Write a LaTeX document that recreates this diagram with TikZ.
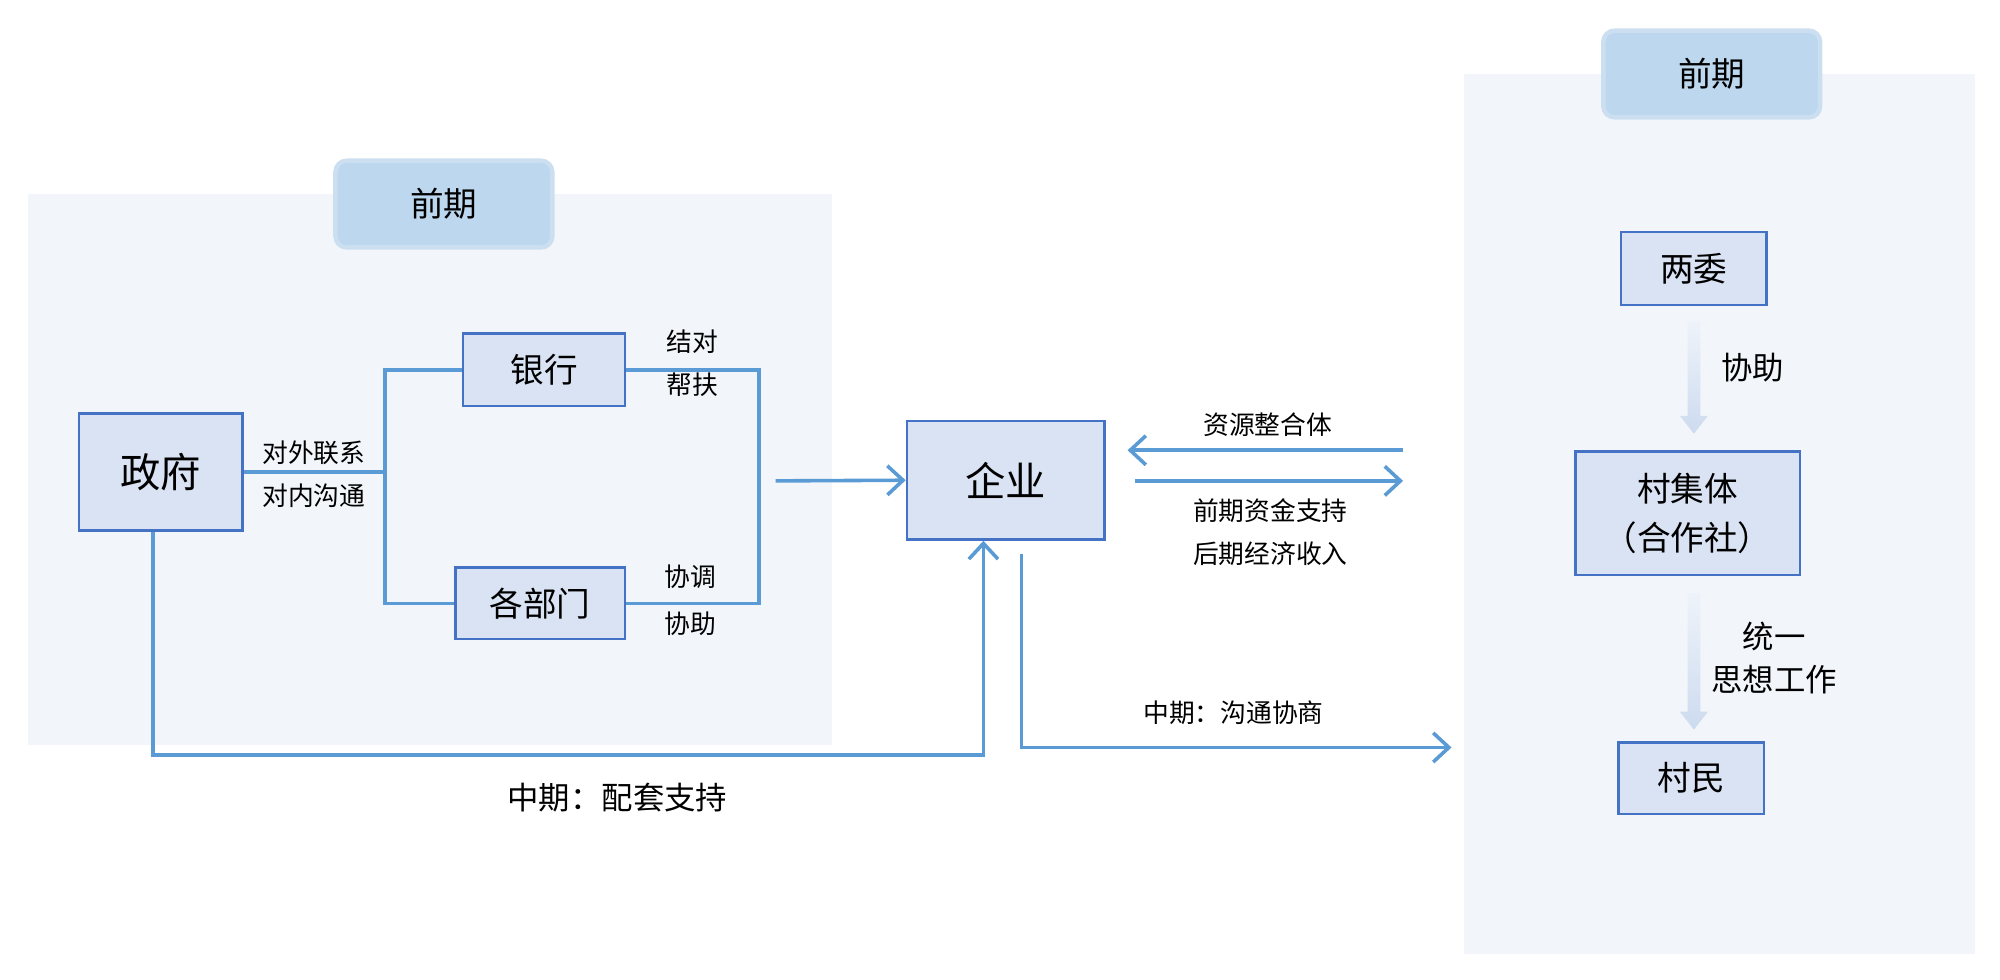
\documentclass[tikz,border=0pt]{standalone}
\usepackage{fontspec}
\newfontfamily\cjk{Noto Sans CJK SC}
\usepackage{xcolor}
\usepackage{tikz}
\usetikzlibrary{calc,positioning,arrows.meta}

\definecolor{panelbg}{HTML}{F2F6FA}
\definecolor{tabfill}{HTML}{BDD7EE}
\definecolor{tabedge}{HTML}{CCDFF1}
\definecolor{boxfill}{HTML}{DAE3F3}
\definecolor{boxedge}{HTML}{4472C4}
\definecolor{linkblue}{HTML}{5B9BD5}
\definecolor{fadetop}{HTML}{EEF3FA}
\definecolor{fadebot}{HTML}{CDDBEF}

\tikzset{
  every node/.append style={font=\cjk},
  panel/.style={fill=panelbg},
  tab/.style={fill=tabfill,draw=tabedge,line width=2pt,rounded corners=5pt,
    minimum width=3.4cm,minimum height=1.36cm,font=\cjk\fontsize{15}{18}\selectfont},
  box/.style={draw=boxedge,fill=boxfill,line width=1.1pt,inner sep=0pt},
  bigtxt/.style={font=\cjk\fontsize{18}{21}\selectfont},
  midtxt/.style={font=\cjk\fontsize{15}{21.5}\selectfont,align=center},
  lbl/.style={font=\cjk\fontsize{11.5}{14}\selectfont,inner sep=0pt},
  lblmid/.style={font=\cjk\fontsize{14}{19}\selectfont,inner sep=0pt,align=center},
  link/.style={draw=linkblue,line width=1.6pt},
  arr/.style={link,-{Straight Barb[length=7pt,width=13pt,line width=1.6pt]}},
}

\begin{document}
\begin{tikzpicture}[x=0.02cm,y=-0.02cm]
  \useasboundingbox (0,0) rectangle (1568,768);
  % 两块底色面板
  \fill[panel] (22,152) rectangle (652,584);
  \fill[panel] (1148,58) rectangle (1548,748);
  \node[tab] (tabL) at (348,160) {前期};
  \node[tab] (tabR) at (1342,58) {前期};

  % 左侧：政府、银行、各部门
  \node[box,bigtxt,minimum width=2.56cm,minimum height=1.84cm] (zf) at (126,370) {政府};
  \node[box,midtxt,minimum width=2.54cm,minimum height=1.14cm] (yh) at (426.5,290) {银行};
  \node[box,midtxt,minimum width=2.66cm,minimum height=1.12cm] (bm) at (423.5,473) {各部门};
  \node[box,bigtxt,minimum width=3.1cm,minimum height=1.86cm] (qy) at (788.5,376.5) {企业};

  % 右侧：两委、村集体、村民
  \node[box,midtxt,minimum width=2.28cm,minimum height=1.14cm] (lw) at (1328,210.5) {两委};
  \node[box,midtxt,minimum width=3.52cm,minimum height=1.94cm] (cjt) at (1323,402.5) {村集体\\（合作社）};
  \node[box,midtxt,minimum width=2.28cm,minimum height=1.12cm] (cm) at (1326,610) {村民};

  % 政府分到银行和各部门
  \draw[link] (zf.east) -- ++(111,0) coordinate (j1);
  \draw[link] (yh.west) -| (j1) |- (bm.west);
  \draw[link] (yh.east) -| ($(bm.east)+(104,0)$) -- (bm.east);
  \node[lbl] (dw) at (246,355) {对外联系};
  \node[lbl] (dn) at (246,389) {对内沟通};
  \node[lbl] (jd) at (543,268) {结对};
  \node[lbl] (bf) at (543,302) {帮扶};
  \node[lbl] (xt) at (541,452) {协调};
  \node[lbl] (xz) at (541,489) {协助};
  \coordinate (m) at (608,377);
  \draw[arr] (m) -- (qy.west);

  % 中期：政府配套支持企业
  \coordinate (gb) at (771,592);
  \draw[arr] ([xshift=-0.12cm]zf.south) |- (gb) -- (gb |- qy.south);
  \node[lblmid] (ptzc) at (484,625) {中期：配套支持};

  % 企业与村集体之间
  \coordinate (zr) at (1100,353);
  \coordinate (zl) at (884,353);
  \coordinate (sl) at (890,377);
  \coordinate (sr) at (1100,377);
  \draw[arr] (zr) -- (zl);
  \draw[arr] (sl) -- (sr);
  \node[lbl] (zyzh) at (994,333) {资源整合体};
  \node[lbl] (qqzj) at (996,400) {前期资金支持};
  \node[lbl] (hqjj) at (996,434) {后期经济收入};

  % 中期：沟通协商
  \coordinate (gc) at (801,586);
  \coordinate (ge) at (1138,586);
  \draw[arr] ([yshift=-0.2cm]gc |- qy.south) -- (gc) -- (ge);
  \node[lbl] (gtxs) at (967,559) {中期：沟通协商};

  % 右侧淡色箭头
  \foreach \ya/\yb in {252/340,465/572}
    \shade[top color=fadetop,bottom color=fadebot]
      (1323,\ya) -- (1333,\ya) -- (1333,\yb-14) -- (1339,\yb-14) -- (1328,\yb)
      -- (1317,\yb-14) -- (1323,\yb-14) -- cycle;
  \node[lblmid] (xz2) at (1374,288) {协助};
  \node[lblmid] (tysx) at (1391,516) {统一\\思想工作};
\end{tikzpicture}
\end{document}
